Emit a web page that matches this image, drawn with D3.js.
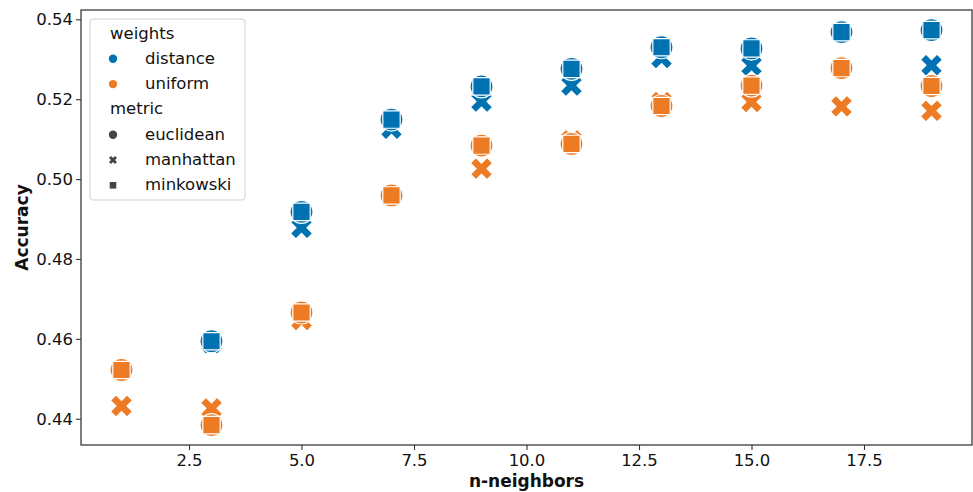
<!DOCTYPE html>
<html>
<head>
<meta charset="utf-8">
<script src="https://cdn.jsdelivr.net/npm/d3@7"></script>
<style>
  html, body { margin: 0; padding: 0; background: #fff; }
  svg { display: block; font-family: "DejaVu Sans", sans-serif; }
</style>
</head>
<body>
<svg id="chart" width="973" height="492"></svg>
<script>
// ---- data ----
const neighbors = [1, 3, 5, 7, 9, 11, 13, 15, 17, 19];
const distanceEuclidean = [0.4522, 0.4594, 0.4918, 0.5149, 0.5232, 0.5276, 0.5330, 0.5327, 0.5368, 0.5373];
const distanceManhattan = [0.4430, 0.4589, 0.4878, 0.5126, 0.5194, 0.5234, 0.5303, 0.5284, 0.5367, 0.5285];
const distanceMinkowski = [0.4522, 0.4594, 0.4918, 0.5149, 0.5232, 0.5276, 0.5330, 0.5327, 0.5368, 0.5373];
const uniformEuclidean = [0.4522, 0.4384, 0.4666, 0.4959, 0.5084, 0.5088, 0.5183, 0.5234, 0.5278, 0.5233];
const uniformManhattan = [0.4432, 0.4426, 0.4647, 0.4959, 0.5026, 0.5097, 0.5193, 0.5193, 0.5182, 0.5171];
const uniformMinkowski = [0.4522, 0.4384, 0.4666, 0.4959, 0.5084, 0.5088, 0.5183, 0.5234, 0.5278, 0.5233];
const weightsLevels = ["distance", "uniform"];
const metricLevels = ["euclidean", "manhattan", "minkowski"];
const xTicks = [2.5, 5.0, 7.5, 10.0, 12.5, 15.0, 17.5];
const yTicks = [0.44, 0.46, 0.48, 0.50, 0.52, 0.54];

const seriesTable = [
  { weights: "distance", metric: "manhattan", values: distanceManhattan },
  { weights: "distance", metric: "euclidean", values: distanceEuclidean },
  { weights: "distance", metric: "minkowski", values: distanceMinkowski },
  { weights: "uniform", metric: "manhattan", values: uniformManhattan },
  { weights: "uniform", metric: "euclidean", values: uniformEuclidean },
  { weights: "uniform", metric: "minkowski", values: uniformMinkowski }
];
const points = [];
seriesTable.forEach(s => s.values.forEach((v, i) => points.push({ weights: s.weights, metric: s.metric, x: neighbors[i], y: v })));

// ---- layout ----
const L = 81, R = 972, T = 10, B = 445;
const svg = d3.select("#chart");
const x = d3.scaleLinear().domain([0.1, 19.9]).range([L, R]);
const y = d3.scaleLinear().domain([0.43343, 0.54233]).range([B, T]);
const color = d3.scaleOrdinal().domain(weightsLevels).range(["#0072B2", "#EC7B24"]);

// marker path generators
function xPath(s) {
  const u = s / 6;
  const pts = [[-1,-3],[1,-3],[1,-1],[3,-1],[3,1],[1,1],[1,3],[-1,3],[-1,1],[-3,1],[-3,-1],[-1,-1]]
    .map(([a, b]) => [a * u, b * u])
    .map(([a, b]) => [(a - b) / Math.SQRT2, (a + b) / Math.SQRT2]);
  return "M" + pts.map(p => p[0].toFixed(2) + "," + p[1].toFixed(2)).join("L") + "Z";
}
function circlePath(r) {
  return `M${-r},0A${r},${r} 0 1,0 ${r},0A${r},${r} 0 1,0 ${-r},0Z`;
}
function squarePath(a) {
  const h = a / 2;
  return `M${-h},${-h}H${h}V${h}H${-h}Z`;
}
const bigShape = { euclidean: circlePath(11.5), manhattan: xPath(23.5), minkowski: squarePath(17.4) };
const smallShape = { euclidean: circlePath(4.2), manhattan: xPath(8.5), minkowski: squarePath(6.6) };

// ---- axes ----
const xAxis = d3.axisBottom(x).tickValues(xTicks).tickFormat(d3.format(".1f")).tickSize(5).tickPadding(4);
const yAxis = d3.axisLeft(y).tickValues(yTicks).tickFormat(d3.format(".2f")).tickSize(5).tickPadding(3);

const gx = svg.append("g").attr("transform", `translate(0,${B})`).call(xAxis);
const gy = svg.append("g").attr("transform", `translate(${L},0)`).call(yAxis);
[gx, gy].forEach(g => {
  g.select(".domain").remove();
  g.selectAll(".tick line").attr("stroke", "#333").attr("stroke-width", 1.1);
  g.selectAll(".tick text").attr("fill", "#111").style("font-size", "16.5px").style("font-family", "DejaVu Sans");
});

// ---- points ----
svg.append("g").selectAll("path").data(points).join("path")
  .attr("transform", d => `translate(${x(d.x)},${y(d.y)})`)
  .attr("d", d => bigShape[d.metric])
  .attr("fill", d => color(d.weights))
  .attr("stroke", "#fff")
  .attr("stroke-width", 1.2);

// spines
svg.append("rect").attr("x", L).attr("y", T).attr("width", R - L).attr("height", B - T)
  .attr("fill", "none").attr("stroke", "#333").attr("stroke-width", 1.25);

// axis labels
svg.append("text").attr("x", (L + R) / 2).attr("y", 487).attr("text-anchor", "middle")
  .style("font-size", "17px").style("font-weight", "bold").attr("fill", "#111").text("n-neighbors");
svg.append("text").attr("transform", `translate(28,${(T + B) / 2}) rotate(-90)`).attr("text-anchor", "middle")
  .style("font-size", "17px").style("font-weight", "bold").attr("fill", "#111").text("Accuracy");

// ---- legend ----
const lg = svg.append("g");
lg.append("rect").attr("x", 90).attr("y", 19).attr("width", 155).attr("height", 181).attr("rx", 3)
  .attr("fill", "#fff").attr("fill-opacity", 0.8).attr("stroke", "#d0d0d0").attr("stroke-width", 1);
const legendRows = [
  { label: "weights", title: true },
  ...weightsLevels.map(w => ({ label: w, shape: smallShape.euclidean, fill: color(w) })),
  { label: "metric", title: true },
  ...metricLevels.map(m => ({ label: m, shape: smallShape[m], fill: "#444" }))
];
legendRows.forEach((r, i) => {
  const base = 38.5 + i * 25.3;
  if (r.title) {
    lg.append("text").attr("x", 110).attr("y", base).style("font-size", "16.5px").attr("fill", "#111").text(r.label);
  } else {
    lg.append("path").attr("transform", `translate(113,${base - 5})`).attr("d", r.shape).attr("fill", r.fill);
    lg.append("text").attr("x", 145).attr("y", base).style("font-size", "16.5px").attr("fill", "#111").text(r.label);
  }
});
</script>
</body>
</html>
